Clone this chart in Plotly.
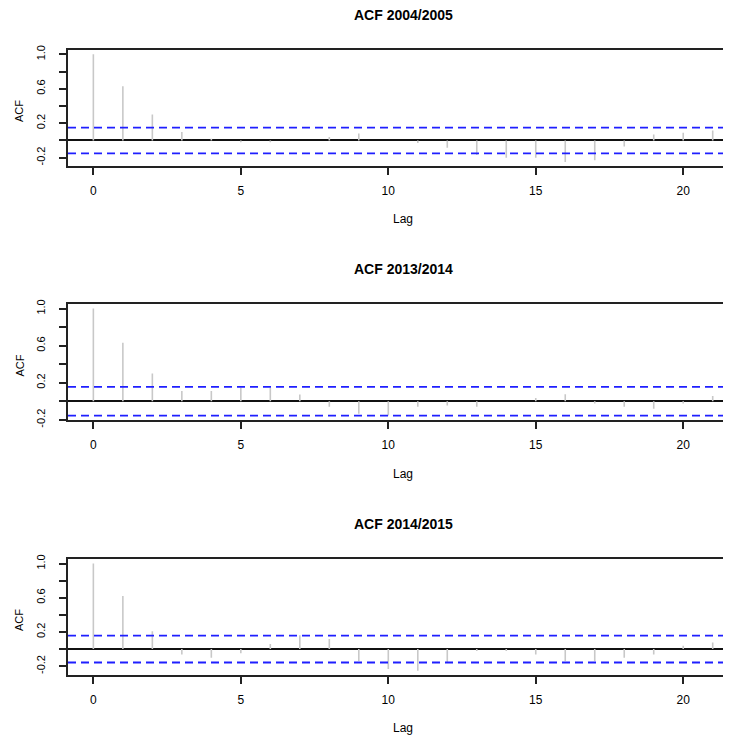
import plotly.graph_objects as go

lags = list(range(22))
titles = ["ACF 2004/2005", "ACF 2013/2014", "ACF 2014/2015"]
acf_2004 = [1.0, 0.63, 0.30, 0.097, 0.02, -0.02, -0.02, 0.0, 0.04, 0.08, 0.0,
            -0.03, -0.085, -0.17, -0.20, -0.20, -0.25, -0.23, -0.07, 0.07, 0.09, 0.115]
acf_2013 = [1.0, 0.63, 0.30, 0.11, 0.11, 0.145, 0.145, 0.073, -0.06, -0.135, -0.153,
            -0.06, -0.045, -0.06, 0.0, 0.036, 0.076, -0.025, -0.06, -0.08, -0.025, 0.058]
acf_2014 = [1.0, 0.62, 0.21, -0.062, -0.10, -0.05, 0.058, 0.163, 0.117, -0.14, -0.233,
            -0.253, -0.16, -0.023, -0.023, -0.062, -0.14, -0.14, -0.10, -0.062, 0.039, 0.078]
ci_bounds = [0.15, 0.156, 0.157]
series = [acf_2004, acf_2013, acf_2014]
y_tickvals = [-0.2, 0.0, 0.2, 0.4, 0.6, 0.8, 1.0]
y_ticktext = ["-0.2", "", "0.2", "", "0.6", "", "1.0"]
x_tickvals = [0, 5, 10, 15, 20]

# the page body adds an 8px margin, so the figure is sized to fit the window
W, H = 723, 730
L = 60
FONT = "Liberation Sans, Arial, sans-serif"
# box pixel positions (top, bottom) of each panel, in figure pixels
boxes = [(42, 158.3), (296.3, 412), (551.3, 667)]
title_y = [7, 261.5, 516]
lag_y = [211, 465.5, 720]
acf_y = [103, 357.5, 612]
x_range = [-0.86, 21.62]

fig = go.Figure()
layout = dict(width=W, height=H, margin=dict(l=L, r=0, t=0, b=0, autoexpand=False),
              plot_bgcolor="white", paper_bgcolor="white", showlegend=False,
              font=dict(family=FONT, color="black"))
annotations = []
for i, (vals, ci) in enumerate(zip(series, ci_bounds)):
    n = i + 1
    xa = "x" if n == 1 else f"x{n}"
    ya = "y" if n == 1 else f"y{n}"
    xs, ys = [], []
    for lag, v in zip(lags, vals):
        xs += [lag, lag, None]
        ys += [0, v, None]
    fig.add_trace(go.Scatter(x=xs, y=ys, mode="lines", xaxis=xa, yaxis=ya,
                             line=dict(color="#c8c8c8", width=1.6), hoverinfo="skip"))
    for c in (ci, -ci):
        fig.add_trace(go.Scatter(x=[x_range[0], x_range[1]], y=[c, c], mode="lines",
                                 xaxis=xa, yaxis=ya,
                                 line=dict(color="#1f1fff", width=1.8, dash="8px,5px"),
                                 hoverinfo="skip"))
    lo = min(min(vals), -ci)
    hi = max(max(vals), ci)
    r = hi - lo
    yr = [lo - 0.04 * r, hi + 0.04 * r]
    top, bot = boxes[i]
    dom = [1 - bot / H, 1 - top / H]
    layout[f"xaxis{'' if n == 1 else n}"] = dict(
        domain=[0, 1], range=x_range, anchor=ya, tickvals=x_tickvals,
        ticks="outside", ticklen=7, tickwidth=1.5, tickcolor="#222",
        showline=True, linecolor="#222", linewidth=1.5, mirror=True,
        showgrid=False, zeroline=False, tickfont=dict(size=12, family=FONT),
        ticklabelstandoff=6, automargin=False)
    layout[f"yaxis{'' if n == 1 else n}"] = dict(
        domain=dom, range=yr, anchor=xa, tickvals=y_tickvals, ticktext=y_ticktext,
        ticks="outside", ticklen=7, tickwidth=1.5, tickcolor="#222", tickangle=-90,
        showline=True, linecolor="#222", linewidth=1.5, mirror=False,
        showgrid=False, zeroline=True, zerolinecolor="#111", zerolinewidth=1.6,
        tickfont=dict(size=11, family=FONT), ticklabelstandoff=10, automargin=False)
    annotations.append(dict(text=f"<b>{titles[i]}</b>", xref="paper", yref="paper",
                            x=(395 - L) / (W - L), y=1 - title_y[i] / H,
                            xanchor="center", yanchor="middle", showarrow=False,
                            font=dict(size=14, family=FONT)))
    annotations.append(dict(text="Lag", xref="paper", yref="paper",
                            x=(394.5 - L) / (W - L), y=1 - lag_y[i] / H,
                            xanchor="center", yanchor="middle", showarrow=False,
                            font=dict(size=12, family=FONT)))
    annotations.append(dict(text="ACF", xref="paper", yref="paper",
                            x=(11 - L) / (W - L), y=1 - acf_y[i] / H,
                            xanchor="center", yanchor="middle", showarrow=False,
                            textangle=-90, font=dict(size=11, family=FONT)))
layout["annotations"] = annotations
fig.update_layout(**layout)
fig.write_html("out.html")
